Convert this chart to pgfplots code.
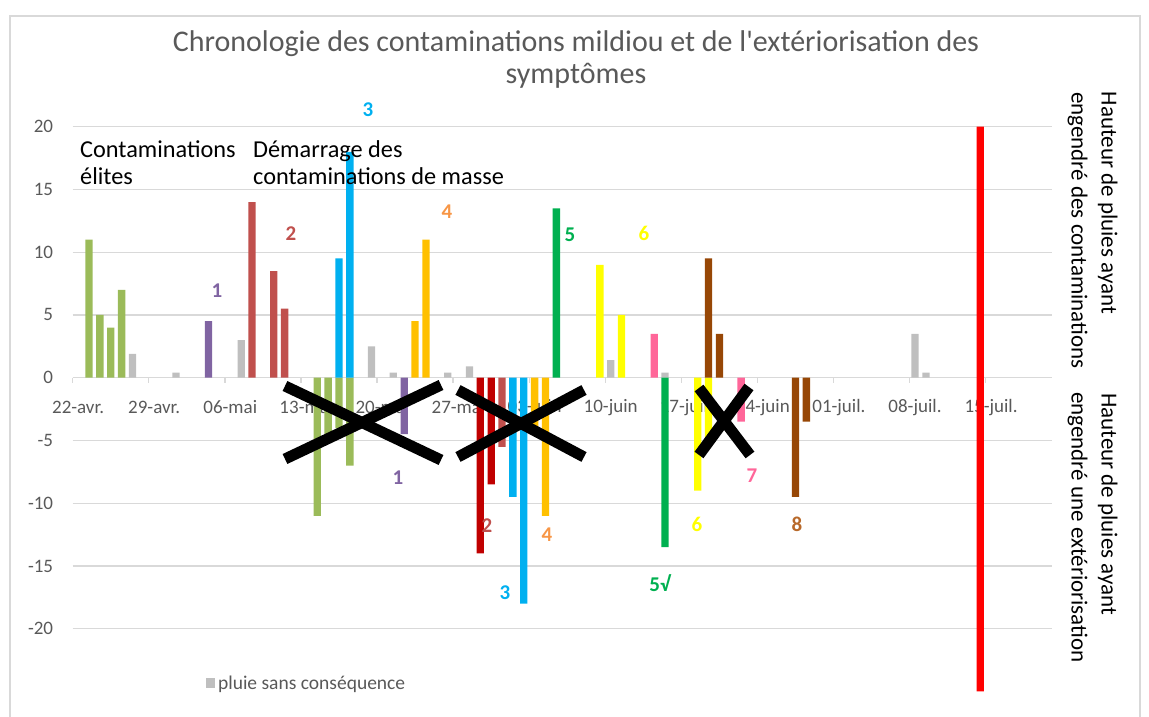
\documentclass[border=0pt]{standalone}
\usepackage{fontspec}
\setmainfont{Carlito}
\newfontfamily\titlefont{Carlito}[Ligatures=TeXOff]
\usepackage{pgfplots}
\usepackage{pgfplotstable}
\pgfplotsset{compat=1.18}
\definecolor{gridgray}{HTML}{D9D9D9}
\definecolor{labelgray}{HTML}{595959}
\definecolor{cgreen}{HTML}{9BBB59}
\definecolor{cgray}{HTML}{BFBFBF}
\definecolor{cpurple}{HTML}{8064A2}
\definecolor{cred}{HTML}{C0504D}
\definecolor{cdarkred}{HTML}{C00000}
\definecolor{ccyan}{HTML}{00B0F0}
\definecolor{corange}{HTML}{FFC000}
\definecolor{clorange}{HTML}{F79646}
\definecolor{cgreenfive}{HTML}{00B050}
\definecolor{cyellow}{HTML}{FFFF00}
\definecolor{cpink}{HTML}{FF6699}
\definecolor{cbrown}{HTML}{974706}
\definecolor{cbrownlab}{HTML}{B8692A}
\definecolor{cline}{HTML}{FF0000}

% x = day index since 22 April + 0.5 (bar centred in its day slot)
\pgfplotstableread{
x y
1.5 11
2.5 5
3.5 4
4.5 7
22.5 -11
23.5 -5
24.5 -4
25.5 -7
}\tgreen
\pgfplotstableread{
x y
5.5 1.9
9.5 0.4
15.5 3
27.5 2.5
29.5 0.4
34.5 0.4
36.5 0.9
49.5 1.4
54.5 0.4
77.5 3.5
78.5 0.4
}\tgray
\pgfplotstableread{
x y
12.5 4.5
30.5 -4.5
}\tpurple
\pgfplotstableread{
x y
16.5 14
18.5 8.5
19.5 5.5
39.5 -5.5
}\tred
\pgfplotstableread{
x y
37.5 -14
38.5 -8.5
}\tdarkred
\pgfplotstableread{
x y
24.5 9.5
25.5 18
40.5 -9.5
41.5 -18
}\tcyan
\pgfplotstableread{
x y
31.5 4.5
32.5 11
42.5 -4.5
43.5 -11
}\torange
\pgfplotstableread{
x y
44.5 13.5
54.5 -13.5
}\tgreenfive
\pgfplotstableread{
x y
48.5 9
50.5 5
57.5 -9
58.5 -5
}\tyellow
\pgfplotstableread{
x y
53.5 3.5
61.5 -3.5
}\tpink
\pgfplotstableread{
x y
58.5 9.5
59.5 3.5
66.5 -9.5
67.5 -3.5
}\tbrown
\pgfplotstableread{
x y
83.5 20
83.5 -25
}\tline

\begin{document}
\begin{tikzpicture}
\useasboundingbox (-72.7pt,-25.5pt) rectangle (1076.3pt,691.5pt);
\begin{axis}[
  scale only axis, width=979.3pt, height=564.8pt,
  at={(0pt,0pt)}, anchor=south west,
  xmin=0, xmax=90.1, ymin=-25, ymax=20,
  axis x line*=middle, axis y line*=left,
  hide obscured x ticks=false,
  y axis line style={draw=none},
  x axis line style={draw=gridgray, line width=1.3pt},
  xtick={0,7,...,84},
  xticklabels={22-avr.,29-avr.,06-mai,13-mai,20-mai,27-mai,03-juin,10-juin,17-juin,24-juin,01-juil.,08-juil.,15-juil.},
  xtick style={draw=gridgray, line width=1.3pt},
  major tick length=5pt,
  xtick align=outside,
  ytick={-20,-15,...,20},
  ytick style={draw=none},
  ymajorgrids, grid style={draw=gridgray, line width=1.3pt},
  tick label style={font=\fontsize{19}{21}\selectfont, text=labelgray},
  xticklabel style={anchor=center, xshift=5.4pt, yshift=-24.6pt},
  yticklabel style={anchor=east, inner sep=0pt, xshift=-19.4pt},
  /pgf/number format/assume math mode=true,
  clip=false,
  legend style={at={(0.136,0.015)}, anchor=west, draw=none, fill=none,
    font=\fontsize{19.5}{21}\selectfont, text=labelgray, inner sep=0pt,
    nodes={inner sep=3pt}},
  every axis plot/.append style={ybar, bar width=7.3pt, draw=none},
]
\addplot[fill=cgreen, forget plot] table {\tgreen};
\addplot[fill=cgray, legend image code/.code={\fill[cgray] (0pt,-5pt) rectangle (9pt,5pt);}] table {\tgray};
\addlegendentry{pluie sans conséquence}
\addplot[fill=cpurple, forget plot] table {\tpurple};
\addplot[fill=cred, forget plot] table {\tred};
\addplot[fill=cdarkred, forget plot] table {\tdarkred};
\addplot[fill=ccyan, forget plot] table {\tcyan};
\addplot[fill=corange, forget plot] table {\torange};
\addplot[fill=cgreenfive, forget plot] table {\tgreenfive};
\addplot[fill=cyellow, forget plot] table {\tyellow};
\addplot[fill=cpink, forget plot] table {\tpink};
\addplot[fill=cbrown, forget plot] table {\tbrown};
\addplot[fill=cline, forget plot] table {\tline};

\begin{scope}[every node/.style={font=\fontsize{21}{23}\selectfont\bfseries}]
\node[text=cpurple] at (axis cs:13.28,6.9) {1};
\node[text=cred] at (axis cs:20.08,11.45) {2};
\node[text=ccyan] at (axis cs:27.16,21.33) {3};
\node[text=clorange] at (axis cs:34.43,13.2) {4};
\node[text=cgreenfive] at (axis cs:45.75,11.37) {5};
\node[text=cyellow] at (axis cs:52.56,11.53) {6};
\node[text=cpurple] at (axis cs:29.93,-8.0) {1};
\node[text=cred] at (axis cs:38.12,-11.8) {2};
\node[text=ccyan] at (axis cs:39.77,-17.1) {3};
\node[text=clorange] at (axis cs:43.63,-12.5) {4};
\node[text=cgreenfive] at (axis cs:54.03,-16.4) {5\textsurd};
\node[text=cyellow] at (axis cs:57.43,-11.66) {6};
\node[text=cpink] at (axis cs:62.49,-7.83) {7};
\node[text=cbrownlab] at (axis cs:66.63,-11.7) {8};
\end{scope}
\end{axis}

% page-pixel coordinates
\begin{scope}[x=1pt, y=-1pt, shift={(-72.7pt,691.5pt)}]
\draw[gridgray, line width=1.3pt] (10,717) -- (10,16) -- (1140,16) -- (1140,717);
\node[text=labelgray, align=center, font=\titlefont\fontsize{30}{32}\selectfont] at (576,60)
  {Chronologie des contaminations mildiou et de l'extériorisation des\\symptômes};
\begin{scope}[every node/.style={anchor=base west, inner sep=0pt, font=\fontsize{24.3}{26}\selectfont}]
\node at (80,158) {Contaminations};
\node at (80,184.5) {élites};
\node at (253,158) {Démarrage des};
\node at (253,184.5) {contaminations de masse};
\end{scope}
\begin{scope}[every node/.style={rotate=-90, anchor=base west, inner sep=0pt, font=\fontsize{23}{26}\selectfont}]
\node at (1101.5,91.7) {Hauteur de pluies ayant};
\node at (1071.5,92) {engendré des contaminations};
\node at (1101.5,393) {Hauteur de pluies ayant};
\node at (1071.5,392) {engendré une extériorisation};
\end{scope}
\begin{scope}[line width=11pt, black]
\draw (285,386) -- (441,460);
\draw (285,459) -- (441,385);
\draw (458,390) -- (584,457);
\draw (458,457) -- (584,390);
\draw (699,388) -- (750,455);
\draw (699,455) -- (749,387);
\end{scope}
\end{scope}
\end{tikzpicture}
\end{document}
